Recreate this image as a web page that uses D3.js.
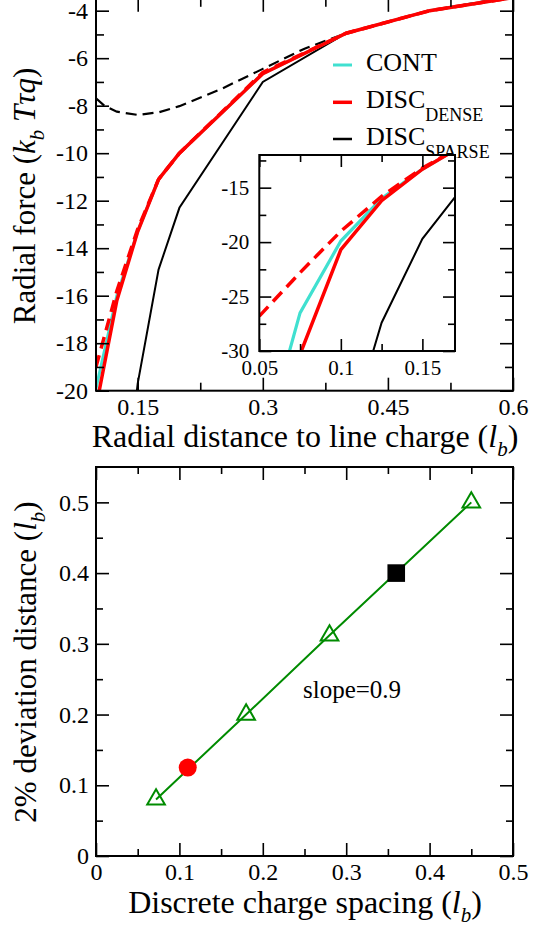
<!DOCTYPE html>
<html><head><meta charset="utf-8">
<script src="https://cdn.jsdelivr.net/npm/d3@7"></script>
<style>
body{margin:0;background:#fff}
svg{display:block}
svg text{font-family:'Liberation Serif','DejaVu Serif','Times New Roman',Times,serif !important;fill:#000}
</style>
</head><body>
<svg id="c" width="533" height="926" font-family="Liberation Serif, DejaVu Serif, serif"></svg>
<script>
// ---------- data (top panel: radial force) ----------
const forceX        = [0.05, 0.075, 0.1, 0.125, 0.15, 0.175, 0.2, 0.3, 0.4, 0.5, 0.6];
const contForce     = [-40, -26.5, -19.9, -16.0, -13.3, -11.1, -10.0, -6.65, -4.95, -4.0, -3.45];
const denseForce    = [-42, -30.3, -20.7, -16.2, -13.3, -11.1, -10.0, -6.65, -4.95, -4.0, -3.45];
const denseAltForce = [-26.8, -22.8, -19.0, -15.8, -13.2, -11.1, -10.0, -6.6, -4.95, -4.0, -3.45];
const sparseX       = [0.1, 0.125, 0.15, 0.175, 0.2, 0.3, 0.4, 0.5, 0.6];
const sparseForce   = [-40, -27.4, -19.7, -14.9, -12.3, -7.0, -4.95, -4.0, -3.45];
const sparseAltX     = [0.1, 0.11, 0.125, 0.15, 0.175, 0.2, 0.25, 0.3, 0.35, 0.4, 0.5, 0.6];
const sparseAltForce = [-7.69, -8.0, -8.25, -8.39, -8.28, -8.02, -7.3, -6.45, -5.6, -4.95, -4.0, -3.4];
const legendNames = ["CONT", "DISC", "DISC"];
const legendSubs  = ["", "DENSE", "SPARSE"];

const topXTicks = [0.15, 0.3, 0.45, 0.6];
const topXMinor = [0.225, 0.375, 0.525];
const topYTicks = [-20, -18, -16, -14, -12, -10, -8, -6, -4];
const topYMinor = [-19, -17, -15, -13, -11, -9, -7, -5];
const insetXTicks = [0.05, 0.1, 0.15];
const insetXMinor = [0.075, 0.125];
const insetYTicks = [-30, -25, -20, -15];
const insetYMinor = [-27.5, -22.5, -17.5, -12.5];

// ---------- data (bottom panel: 2% deviation distance) ----------
const spacing       = [0.072, 0.18, 0.28, 0.45];
const deviation     = [0.08, 0.2, 0.312, 0.5];
const denseSpacing  = [0.11];
const denseDev      = [0.125];
const sparseSpacing = [0.36];
const sparseDev     = [0.4];
const botXTicks = [0, 0.1, 0.2, 0.3, 0.4, 0.5];
const botXMinor = [0.05, 0.15, 0.25, 0.35, 0.45];
const botYTicks = [0, 0.1, 0.2, 0.3, 0.4, 0.5];
const botYMinor = [0.05, 0.15, 0.25, 0.35, 0.45];

const FONT = "'Liberation Serif','DejaVu Serif','Times New Roman',Times,serif";
const svg = d3.select("#c");
const CYAN = "#40e0d0", RED = "#ff0000", GREEN = "#008b00";

function axes(g, xs, ys, o) {
  const [x0, x1] = xs.range(), [y0, y1] = ys.range();
  const fs = o.fs;
  const add = (gen, tx, ty, vals, size, fmt, pad) => {
    const a = g.append("g").attr("transform", `translate(${tx},${ty})`)
      .call(gen.tickValues(vals).tickSize(-size).tickPadding(pad).tickFormat(fmt));
    a.attr("font-family", null).attr("font-size", null);
    a.select(".domain").remove();
    a.selectAll("line").attr("stroke", "#000").attr("stroke-width", 1.6);
    a.selectAll("text").attr("font-size", fs).style("font-family", FONT).attr("fill", "#000");
    return a;
  };
  const none = () => "";
  add(d3.axisBottom(xs), 0, y0, o.xMaj, o.maj, o.xFmt, o.xPad);
  add(d3.axisBottom(xs), 0, y0, o.xMin, o.min, none, 0);
  add(d3.axisTop(xs), 0, y1, o.xMaj, o.maj, none, 0);
  add(d3.axisTop(xs), 0, y1, o.xMin, o.min, none, 0);
  add(d3.axisLeft(ys), x0, 0, o.yMaj, o.maj, o.yFmt, o.yPad);
  add(d3.axisLeft(ys), x0, 0, o.yMin, o.min, none, 0);
  add(d3.axisRight(ys), x1, 0, o.yMaj, o.maj, none, 0);
  add(d3.axisRight(ys), x1, 0, o.yMin, o.min, none, 0);
  g.append("rect").attr("x", x0).attr("y", y1).attr("width", x1 - x0).attr("height", y0 - y1)
    .attr("fill", "none").attr("stroke", "#000").attr("stroke-width", 2);
}
function txt(g) { return g.append("text").style("font-family", FONT); }

// ================= TOP PANEL =================
const tx = d3.scaleLinear().domain([0.1, 0.6]).range([96, 513]);
const ty = d3.scaleLinear().domain([-20, -3.5]).range([390.7, -1.2]);
const defs = svg.append("defs");
defs.append("clipPath").attr("id", "clipTop").append("rect")
  .attr("x", 96).attr("y", -1.2).attr("width", 417).attr("height", 391.9);
const topG = svg.append("g");
const plotTop = topG.append("g").attr("clip-path", "url(#clipTop)");
const lineT = (xsArr, ysArr) => d3.line().x((d, i) => tx(xsArr[i])).y((d, i) => ty(ysArr[i]))(ysArr);

plotTop.append("path").attr("d", lineT(sparseAltX, sparseAltForce)).attr("fill", "none")
  .attr("stroke", "#000").attr("stroke-width", 2.2).attr("stroke-dasharray", "11,6");
plotTop.append("path").attr("d", lineT(sparseX, sparseForce)).attr("fill", "none")
  .attr("stroke", "#000").attr("stroke-width", 2);
plotTop.append("path").attr("d", lineT(forceX, contForce)).attr("fill", "none")
  .attr("stroke", CYAN).attr("stroke-width", 3);
plotTop.append("path").attr("d", lineT(forceX, denseAltForce)).attr("fill", "none")
  .attr("stroke", RED).attr("stroke-width", 3.5).attr("stroke-dasharray", "12,7");
plotTop.append("path").attr("d", lineT(forceX, denseForce)).attr("fill", "none")
  .attr("stroke", RED).attr("stroke-width", 3.5);

axes(topG, tx, ty, {fs: 24, maj: 13, min: 8, xMaj: topXTicks, xMin: topXMinor, yMaj: topYTicks, yMin: topYMinor,
  xFmt: d => String(d), yFmt: d => String(d), xPad: 7, yPad: 8});

// legend
const legColors = [CYAN, RED, "#000"];
const legW = [3, 3.5, 2.5];
const legY = [65, 102.3, 139];
legendNames.forEach((n, i) => {
  topG.append("line").attr("x1", 333).attr("x2", 352).attr("y1", legY[i]).attr("y2", legY[i])
    .attr("stroke", legColors[i]).attr("stroke-width", legW[i]);
  const t = txt(topG).attr("x", 366).attr("y", legY[i] + 6).attr("font-size", 26).text(n);
  if (legendSubs[i]) t.append("tspan").attr("dy", 13).attr("font-size", 18).text(legendSubs[i]);
});

// x label
const xl = txt(topG).attr("x", 305).attr("y", 447).attr("text-anchor", "middle").attr("font-size", 32);
xl.append("tspan").text("Radial distance to line charge (");
xl.append("tspan").attr("font-style", "italic").text("l");
xl.append("tspan").attr("font-style", "italic").attr("font-size", 21).attr("dy", 9).text("b");
xl.append("tspan").attr("dy", -9).text(")");
// y label
const yl = txt(topG).attr("transform", "translate(35,196) rotate(-90)").attr("text-anchor", "middle").attr("font-size", 31);
yl.append("tspan").text("Radial force (");
yl.append("tspan").attr("font-style", "italic").text("k");
yl.append("tspan").attr("font-style", "italic").attr("font-size", 21).attr("dy", 9).text("b");
yl.append("tspan").attr("dy", -9).text(" ");
yl.append("tspan").attr("font-style", "italic").text("Tτq");
yl.append("tspan").text(")");

// ---------- inset ----------
const ix = d3.scaleLinear().domain([0.05, 0.17]).range([259.3, 455]);
const iy = d3.scaleLinear().domain([-30, -12]).range([351, 155]);
const inset = svg.append("g");
inset.append("rect").attr("x", 259.3).attr("y", 155).attr("width", 195.7).attr("height", 196).attr("fill", "#fff");
defs.append("clipPath").attr("id", "clipIn").append("rect")
  .attr("x", 259.3).attr("y", 155).attr("width", 195.7).attr("height", 196);
const pin = inset.append("g").attr("clip-path", "url(#clipIn)");
const lineI = (xsArr, ysArr) => d3.line().x((d, i) => ix(xsArr[i])).y((d, i) => iy(ysArr[i]))(ysArr);
pin.append("path").attr("d", lineI(sparseX, sparseForce)).attr("fill", "none").attr("stroke", "#000").attr("stroke-width", 2);
pin.append("path").attr("d", lineI(forceX, contForce)).attr("fill", "none").attr("stroke", CYAN).attr("stroke-width", 3.2);
pin.append("path").attr("d", lineI(forceX, denseAltForce)).attr("fill", "none").attr("stroke", RED)
  .attr("stroke-width", 3.5).attr("stroke-dasharray", "13,7");
pin.append("path").attr("d", lineI(forceX, denseForce)).attr("fill", "none").attr("stroke", RED).attr("stroke-width", 3.5);
axes(inset, ix, iy, {fs: 21, maj: 12, min: 7, xMaj: insetXTicks, xMin: insetXMinor, yMaj: insetYTicks, yMin: insetYMinor,
  xFmt: d => String(d), yFmt: d => String(d), xPad: 9, yPad: 10});

// ================= BOTTOM PANEL =================
const bx = d3.scaleLinear().domain([0, 0.5]).range([96, 513]);
const by = d3.scaleLinear().domain([0, 0.55]).range([856, 467]);
const bot = svg.append("g");
bot.append("path").attr("d", d3.line().x((d, i) => bx(spacing[i])).y(d => by(d))(deviation))
  .attr("fill", "none").attr("stroke", GREEN).attr("stroke-width", 2);
bot.selectAll(".tri").data(deviation).join("path")
  .attr("transform", (d, i) => `translate(${bx(spacing[i])},${by(d)})`)
  .attr("d", d3.symbol(d3.symbolTriangle, 135)).attr("fill", "none").attr("stroke", GREEN).attr("stroke-width", 2);
bot.selectAll(".cir").data(denseDev).join("circle")
  .attr("cx", (d, i) => bx(denseSpacing[i])).attr("cy", d => by(d)).attr("r", 9).attr("fill", RED);
bot.selectAll(".sq").data(sparseDev).join("path")
  .attr("transform", (d, i) => `translate(${bx(sparseSpacing[i])},${by(d)})`)
  .attr("d", d3.symbol(d3.symbolSquare, 310)).attr("fill", "#000");
txt(bot).attr("x", 303).attr("y", 698).attr("font-size", 25).text("slope=0.9");

axes(bot, bx, by, {fs: 24, maj: 13, min: 7, xMaj: botXTicks, xMin: botXMinor, yMaj: botYTicks, yMin: botYMinor,
  xFmt: d => String(d), yFmt: d => String(d), xPad: 7, yPad: 7});

const bxl = txt(bot).attr("x", 305).attr("y", 913).attr("text-anchor", "middle").attr("font-size", 32);
bxl.append("tspan").text("Discrete charge spacing (");
bxl.append("tspan").attr("font-style", "italic").text("l");
bxl.append("tspan").attr("font-style", "italic").attr("font-size", 21).attr("dy", 9).text("b");
bxl.append("tspan").attr("dy", -9).text(")");
const byl = txt(bot).attr("transform", "translate(36,662) rotate(-90)").attr("text-anchor", "middle").attr("font-size", 31);
byl.append("tspan").text("2% deviation distance (");
byl.append("tspan").attr("font-style", "italic").text("l");
byl.append("tspan").attr("font-style", "italic").attr("font-size", 21).attr("dy", 9).text("b");
byl.append("tspan").attr("dy", -9).text(")");
</script>
</body></html>
